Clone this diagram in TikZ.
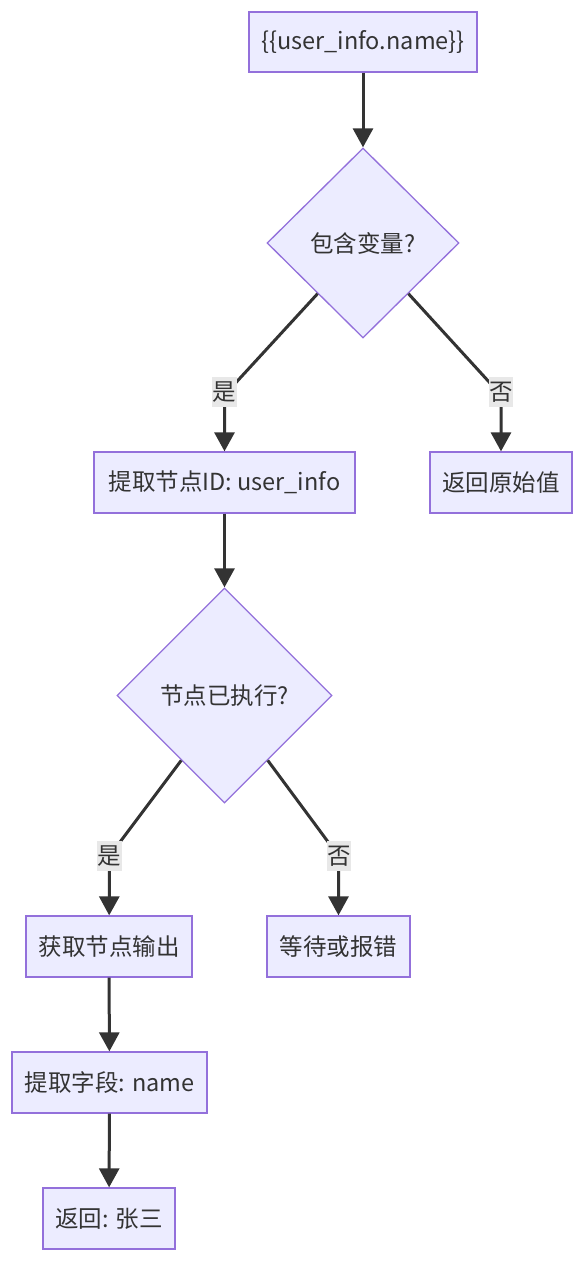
\documentclass[tikz,border=0pt]{standalone}
\usepackage{fontspec}
\setmainfont{Noto Sans CJK SC}
\usetikzlibrary{shapes.geometric,arrows.meta,calc}
\definecolor{nodefill}{HTML}{ECECFF}
\definecolor{nodeline}{HTML}{9370DB}
\definecolor{edgecol}{HTML}{333333}
\definecolor{lblbg}{HTML}{E8E8E8}
\definecolor{txt}{HTML}{333333}
\tikzset{
  box/.style={draw=nodeline, fill=nodefill, line width=1.3pt, inner sep=0pt, minimum height=61pt, text=txt, font=\fontsize{23.5}{28}\selectfont},
  decision/.style={diamond, draw=nodeline, fill=nodefill, line width=1.3pt, inner sep=0pt, text=txt, font=\fontsize{23.5}{28}\selectfont},
  flow/.style={draw=edgecol, line width=3pt, -{Triangle[length=19pt,width=20pt]}},
  lbl/.style={fill=lblbg, inner xsep=0.5pt, inner ysep=0pt, minimum height=30pt, text=txt, font=\fontsize{23.5}{28}\selectfont},
}
\begin{document}
\begin{tikzpicture}[x=1pt,y=-1pt]
\useasboundingbox (0,0) rectangle (585,1261);
\node[box, minimum width=228pt, minimum height=60pt] (A) at (363,42) {\{\{user\_info.name\}\}};
\node[decision, minimum width=192pt, minimum height=190pt] (B) at (363,243) {包含变量?};
\node[box, minimum width=261pt] (C) at (224.5,482.5) {提取节点ID: user\_info};
\node[box, minimum width=142pt] (D) at (501,482.5) {返回原始值};
\node[decision, minimum width=215pt, minimum height=215pt] (E) at (224.5,695.5) {节点已执行?};
\node[box, minimum width=166pt] (F) at (109,946.5) {获取节点输出};
\node[box, minimum width=143pt] (G) at (338.5,946.5) {等待或报错};
\node[box, minimum width=195pt] (H) at (109.5,1082.5) {提取字段: name};
\node[box, minimum width=132pt] (I) at (109,1218.5) {返回: 张三};

\coordinate (bl) at ($(B.west)!0.53!(B.south)$);
\coordinate (br) at ($(B.east)!0.53!(B.south)$);
\coordinate (el) at ($(E.west)!0.6!(E.south)$);
\coordinate (er) at ($(E.east)!0.6!(E.south)$);
\coordinate (bc) at (224.5,395);
\coordinate (bd) at (501,395);
\coordinate (ef) at (109.5,856);
\coordinate (eg) at (338.5,856);

\draw[flow] (A) -- (B);
\draw[flow] (bl) -- (bc) -- (C);
\draw[flow] (br) -- (bd) -- (D);
\draw[flow] (C) -- (E);
\draw[flow] (el) -- (ef) -- (F);
\draw[flow] (er) -- (eg) -- (G);
\draw[flow] (F) -- (H);
\draw[flow] (H) -- (I);

\node[lbl] (l1) at (224.5,392) {是};
\node[lbl] (l2) at (501,392) {否};
\node[lbl] (l3) at (109.5,856) {是};
\node[lbl] (l4) at (339,856) {否};
\end{tikzpicture}
\end{document}
